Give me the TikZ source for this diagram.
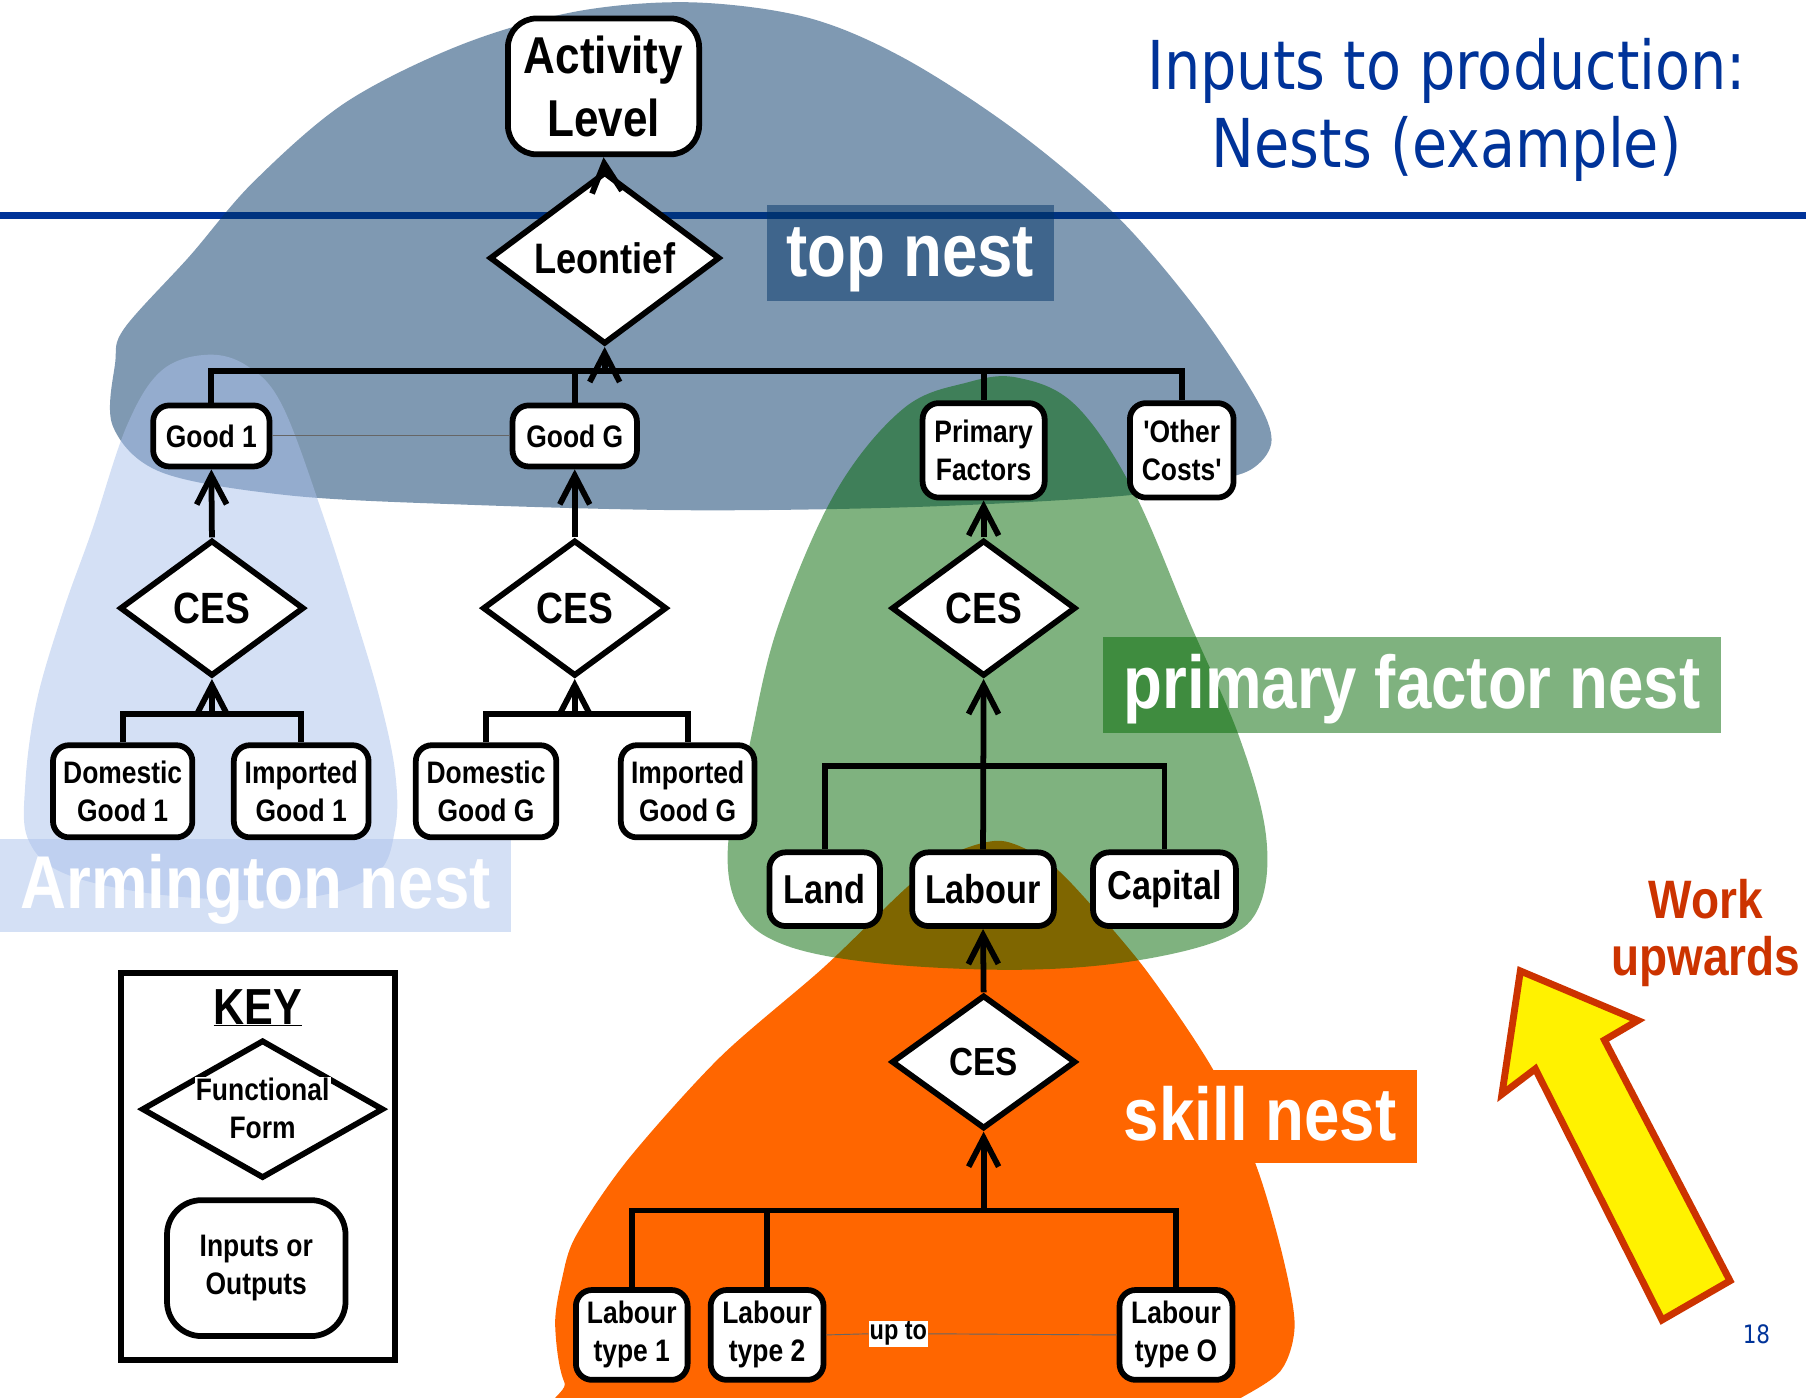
\documentclass[tikz,border=0pt]{standalone}
\usepackage{fontspec}
\setmainfont{Liberation Sans}
\newfontfamily\nf[FakeStretch=0.85]{Liberation Sans}
\newfontfamily\tf[FakeStretch=0.85]{DejaVu Sans}
\usetikzlibrary{arrows.meta,shapes.geometric}
\definecolor{titleblue}{HTML}{003399}
\definecolor{topblue}{HTML}{003366}
\definecolor{armblue}{HTML}{AAC1EB}
\definecolor{pfgreen}{HTML}{006600}
\definecolor{skillorange}{HTML}{FF6600}
\definecolor{workred}{HTML}{CC3300}
\begin{document}
\begin{tikzpicture}[x=1pt,y=-1pt,
 box/.style={draw,line width=5pt,rounded corners=14pt,fill=white,inner sep=0pt,align=center,font=\nf\bfseries\fontsize{27pt}{33pt}\selectfont},
 bigbox/.style={box,font=\nf\bfseries\fontsize{35pt}{42pt}\selectfont},
 dia/.style={draw,diamond,line width=5pt,fill=white,inner sep=0pt,font=\nf\bfseries\fontsize{38pt}{42pt}\selectfont},
 conn/.style={line width=5pt,line join=miter},
 arr/.style={line width=5pt,-{Straight Barb[length=25pt,width=26pt]}},
 nestlab/.style={inner sep=0pt,text=white,text opacity=1,text height=45pt,text depth=4pt,font=\nf\bfseries\fontsize{65pt}{70pt}\selectfont},
 thinline/.style={line width=0.8pt,draw=black!60}
]
\useasboundingbox (0,0) rectangle (1568,1213);
% background shapes
\begin{scope}
\clip (0,0) rectangle (1568,1213);
\draw[line width=6pt,titleblue] (0,187) -- (1568,187);
\fill[topblue,fill opacity=.5] plot[smooth cycle,tension=0.55] coordinates {(108,285) (165,222) (220,158) (300,89) (400,39) (500,10) (600,2) (700,15) (784,50) (880,112) (969,187) (1040,270) (1090,345) (1104,382) (1090,405) (1060,416) (980,430) (800,440) (600,443) (400,438) (250,430) (140,410) (98,370) (100,315)};
\fill[armblue,fill opacity=.5] plot[smooth cycle,tension=0.6] coordinates {(180,308) (215,318) (245,352) (280,446) (310,540) (330,608) (343,670) (343,720) (325,760) (260,780) (150,778) (60,760) (25,730) (22,680) (32,608) (55,530) (80,460) (110,370) (140,322)};
\fill[skillorange] plot[smooth cycle,tension=0.5] coordinates {(869,730) (905,745) (934,771) (994,841) (1054,930) (1091,1013) (1114,1092) (1124,1151) (1112,1190) (1075,1215) (1040,1232) (520,1232) (490,1200) (482,1150) (488,1110) (500,1073) (545,1007) (625,918) (715,840) (790,768) (830,740)};
\fill[pfgreen,fill opacity=.5] plot[smooth cycle,tension=0.6] coordinates {(884,328) (934,352) (984,426) (1034,543) (1076,640) (1099,724) (1094,785) (1062,815) (980,835) (880,842) (760,836) (680,820) (642,790) (632,735) (650,650) (675,545) (725,428) (784,355) (840,332)};
\end{scope}
% nest labels
\node[nestlab,fill=topblue,fill opacity=.5,minimum width=249pt,minimum height=83pt] (ltop) at (790.5,219.5) {top nest};
\node[nestlab,fill=armblue,fill opacity=.5,minimum width=444pt,minimum height=81pt] (larm) at (222,768.5) {Armington nest};
\node[nestlab,fill=skillorange,minimum width=272pt,minimum height=81pt] (lskill) at (1094,969.5) {skill nest};
\node[nestlab,fill=pfgreen,fill opacity=.5,minimum width=536pt,minimum height=83pt] (lpf) at (1226,594.5) {primary factor nest};
% title
\node[anchor=base,font=\tf\fontsize{58.5pt}{67pt}\selectfont,text=titleblue,inner sep=0pt] (title1) at (1256,78) {Inputs to production:};
\node[anchor=base,font=\tf\fontsize{58.5pt}{67pt}\selectfont,text=titleblue,inner sep=0pt] (title2) at (1256,145) {Nests (example)};
% tree nodes
\node[box,rounded corners=25pt,font=\nf\bfseries\fontsize{45pt}{54pt}\selectfont,minimum width=166pt,minimum height=118pt] (act) at (524,75) {Activity\\Level};
\node[dia,font=\nf\bfseries\fontsize{37pt}{42pt}\selectfont,minimum width=200pt,minimum height=132pt] (leo) at (525,224) {Leontief};
\node[box,minimum width=101pt,minimum height=53pt] (g1) at (183.5,378.5) {Good 1};
\node[box,minimum width=108pt,minimum height=53pt] (gg) at (499,378.5) {Good G};
\node[box,minimum width=106pt,minimum height=82pt] (pf) at (854,391) {Primary\\Factors};
\node[box,minimum width=90pt,minimum height=82pt] (oc) at (1026,391) {'Other\\Costs'};
\node[dia,minimum width=160pt,minimum height=118pt] (c1) at (184,528) {CES};
\node[dia,minimum width=160pt,minimum height=118pt] (cg) at (499,528) {CES};
\node[dia,minimum width=160pt,minimum height=118pt] (cp) at (854,528) {CES};
\node[box,minimum width=121pt,minimum height=80pt] (d1) at (106.5,687) {Domestic\\Good 1};
\node[box,minimum width=117pt,minimum height=80pt] (i1) at (261.5,687) {Imported\\Good 1};
\node[box,minimum width=122pt,minimum height=80pt] (dg) at (422,687) {Domestic\\Good G};
\node[box,minimum width=116pt,minimum height=80pt] (ig) at (597,687) {Imported\\Good G};
\node[bigbox,minimum width=96pt,minimum height=64pt] (land) at (716,772) {Land};
\node[bigbox,minimum width=123pt,minimum height=64pt] (lab) at (853.5,772) {Labour};
\node[bigbox,minimum width=124pt,minimum height=64pt] (cap) at (1011,772) {Capital};
\node[dia,font=\nf\bfseries\fontsize{34pt}{40pt}\selectfont,minimum width=160pt,minimum height=116pt] (cs) at (854,922) {CES};
\node[box,minimum width=97pt,minimum height=78pt] (lt1) at (548.5,1159) {Labour\\type 1};
\node[box,minimum width=98pt,minimum height=78pt] (lt2) at (666,1159) {Labour\\type 2};
\node[box,minimum width=98pt,minimum height=78pt] (lto) at (1021,1159) {Labour\\type O};
\node[fill=white,inner sep=1pt,font=\nf\bfseries\fontsize{24pt}{28pt}\selectfont] (upto) at (780,1158) {up to};
% connectors
\coordinate (tb) at (525,322);
\draw[conn] (g1.north) |- (oc.north |- tb) -- (oc.north);
\draw[conn] (gg.north) -- (gg.north |- tb);
\draw[conn] (pf.north) -- (pf.north |- tb);
\draw[arr] (tb) -- (leo.south);
\draw[arr] (leo.north) -- (act.south);
\draw[thinline] (g1.east) -- (gg.west);
\draw[arr] (c1.north) -- (g1.south);
\draw[arr] (cg.north) -- (gg.south);
\draw[arr] (cp.north) -- (pf.south);
\coordinate (ab1) at (184,620);
\draw[conn] (d1.north) |- (i1.north |- ab1) -- (i1.north);
\draw[arr] (ab1) -- (c1.south);
\coordinate (abg) at (499,620);
\draw[conn] (dg.north) |- (ig.north |- abg) -- (ig.north);
\draw[arr] (abg) -- (cg.south);
\coordinate (pb) at (854,665);
\draw[conn] (land.north) |- (cap.north |- pb) -- (cap.north);
\draw[arr] (lab.north) -- (cp.south);
\draw[arr] (cs.north) -- (lab.south);
\coordinate (sb) at (854,1051);
\draw[conn] (lt1.north) |- (lto.north |- sb) -- (lto.north);
\draw[conn] (lt2.north) -- (lt2.north |- sb);
\draw[arr] (sb) -- (cs.south);
\draw[thinline] (lt2.east) -- (upto.west);
\draw[thinline] (upto.east) -- (lto.west);
% key
\node[draw,line width=5pt,minimum width=238pt,minimum height=336pt,inner sep=0pt] (key) at (224,1013) {};
\node[font=\nf\bfseries\fontsize{44pt}{50pt}\selectfont,inner sep=0pt] (keyt) at (224,875) {\underline{KEY}};
\node[dia,minimum width=210pt,minimum height=120pt] (kd) at (228,963) {};
\node[fill=white,inner sep=1pt,font=\nf\bfseries\fontsize{27pt}{33pt}\selectfont] (kdt) at (228,946) {Functional};
\node[font=\nf\bfseries\fontsize{27pt}{33pt}\selectfont,inner sep=0pt] (kdt2) at (228,979) {Form};
\node[box,rounded corners=30pt,minimum width=155pt,minimum height=118pt] (kb) at (222.5,1101) {Inputs or\\Outputs};
% work upwards
\node[font=\nf\bfseries\fontsize{47pt}{50pt}\selectfont,text=workred,align=center,inner sep=0pt] (work) at (1481,810) {Work\\upwards};
\draw[line width=6pt,draw=workred,fill=yellow,line join=miter] (1320,843) -- (1422,886) -- (1393,903) -- (1502,1112) -- (1443,1146) -- (1333,928) -- (1304,950) -- cycle;
\node[font=\tf\fontsize{22pt}{26pt}\selectfont,text=titleblue,inner sep=0pt] (pg) at (1525,1158) {18};
\end{tikzpicture}
\end{document}
